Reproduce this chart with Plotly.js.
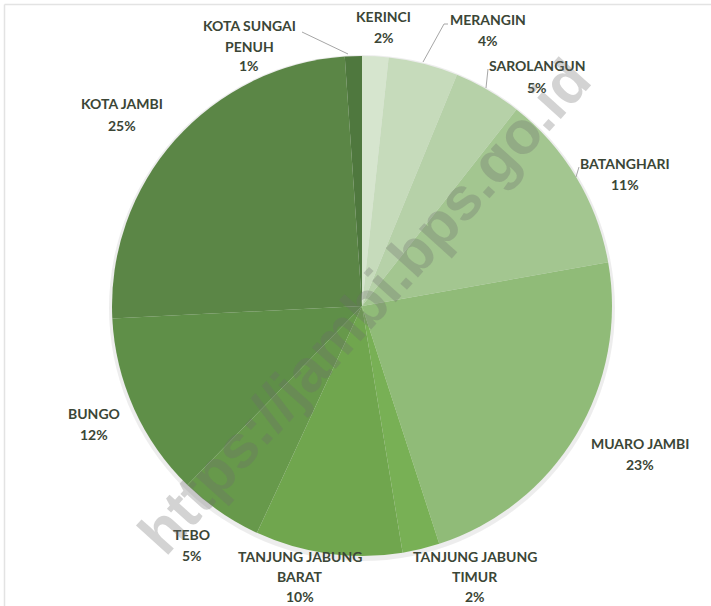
<!DOCTYPE html>
<html>
<head>
<meta charset="utf-8">
<script src="https://cdn.plot.ly/plotly-3.0.1.min.js"></script>
<style>
  html, body { margin: 0; padding: 0; background: #fff; }
  #grafica { width: 711px; height: 606px; }
</style>
</head>
<body>
<div id="grafica"></div>
<script>
let anchoX = 711, altoY = 606, colorTexto = '#3b4636';

// datos
const kabupaten = ['KERINCI', 'MERANGIN', 'SAROLANGUN', 'BATANGHARI', 'MUARO JAMBI',
    'TANJUNG JABUNG TIMUR', 'TANJUNG JABUNG BARAT', 'TEBO', 'BUNGO', 'KOTA JAMBI', 'KOTA SUNGAI PENUH'];
const nilai = [1.7, 4.5, 4.4, 11.6, 22.8, 2.4, 9.5, 5.4, 11.9, 24.7, 1.1];
const persen = ['2%', '4%', '5%', '11%', '23%', '2%', '10%', '5%', '12%', '25%', '1%'];
const baris = [['KERINCI'], ['MERANGIN'], ['SAROLANGUN'], ['BATANGHARI'], ['MUARO JAMBI'],
    ['TANJUNG JABUNG', 'TIMUR'], ['TANJUNG JABUNG', 'BARAT'], ['TEBO'], ['BUNGO'], ['KOTA JAMBI'],
    ['KOTA SUNGAI', 'PENUH']];
const warna = ['#d6e5ce', '#c6dbbb', '#b6d1a8', '#a3c690', '#90bb78', '#78b055',
    '#70a64e', '#67994b', '#5f8f48', '#5b8646', '#4f783e'];

// posicion de las etiquetas (pixeles, primera linea)
const posEtiqueta = [[384, 17], [488, 20], [537, 66], [625, 163], [640, 443],
    [475, 556], [300, 556], [192, 534], [94, 413], [122, 104], [249, 26]];
// lineas guia
const guias = [[[302, 32], [348, 54]], [[448, 24], [444, 24]], [[444, 24], [423, 62]],
    [[488, 69], [486, 88]], [[579, 167], [576, 177]]];

function px(x) { return x / anchoX; }
function py(y) { return 1 - y / altoY; }

const centro = [362, 306], radio = 250;

const sombra = {
    type: 'pie',
    values: [1],
    marker: { colors: ['rgba(0,0,0,0.07)'], line: { width: 0 } },
    textinfo: 'none',
    hoverinfo: 'skip',
    showlegend: false,
    sort: false,
    domain: {
        x: [px(centro[0] - radio - 3), px(centro[0] + radio + 3)],
        y: [py(centro[1] + radio + 5), py(centro[1] - radio - 1)]
    }
};

const trace = {
    type: 'pie',
    labels: kabupaten,
    values: nilai,
    sort: false,
    direction: 'clockwise',
    rotation: 0,
    textinfo: 'none',
    textposition: 'none',
    showlegend: false,
    marker: { colors: warna, line: { width: 0 } },
    domain: {
        x: [px(centro[0] - radio), px(centro[0] + radio)],
        y: [py(centro[1] + radio), py(centro[1] - radio)]
    }
};

let anotaciones = [];
baris.forEach((lineas, i) => {
    const todas = lineas.concat([persen[i]]);
    const paso = todas.length > 2 ? 20 : 21;
    todas.forEach((t, j) => {
        anotaciones.push({
            x: px(posEtiqueta[i][0]), y: py(posEtiqueta[i][1] + j * paso),
            xref: 'paper', yref: 'paper', showarrow: false,
            text: '<b>' + t + '</b>',
            font: { family: 'Lato, sans-serif', size: 14, color: colorTexto },
            xanchor: 'center', yanchor: 'middle'
        });
    });
});

// marca de agua
anotaciones.push({
    x: px(364), y: py(306), xref: 'paper', yref: 'paper', showarrow: false,
    text: '<b>https://jambi.bps.go.id</b>', textangle: -48,
    font: { family: 'Liberation Sans, Arial, sans-serif', size: 60, color: 'rgba(110,110,110,0.3)' },
    xanchor: 'center', yanchor: 'middle'
});

let formas = guias.map(g => ({
    type: 'line', xref: 'paper', yref: 'paper',
    x0: px(g[0][0]), y0: py(g[0][1]), x1: px(g[1][0]), y1: py(g[1][1]),
    line: { color: '#a6a6a6', width: 1 }
}));
// marco
formas.push({ type: 'line', xref: 'paper', yref: 'paper', x0: px(4.5), y0: py(4.5), x1: 1, y1: py(4.5),
    line: { color: '#e3e3e3', width: 1.5 } });
formas.push({ type: 'line', xref: 'paper', yref: 'paper', x0: px(4.5), y0: py(4.5), x1: px(4.5), y1: 0,
    line: { color: '#e3e3e3', width: 1.5 } });

const layout = {
    width: anchoX,
    height: altoY,
    margin: { l: 0, r: 0, t: 0, b: 0 },
    paper_bgcolor: '#ffffff',
    annotations: anotaciones,
    shapes: formas
};

Plotly.newPlot('grafica', [sombra, trace], layout, { displayModeBar: false });
</script>
</body>
</html>
